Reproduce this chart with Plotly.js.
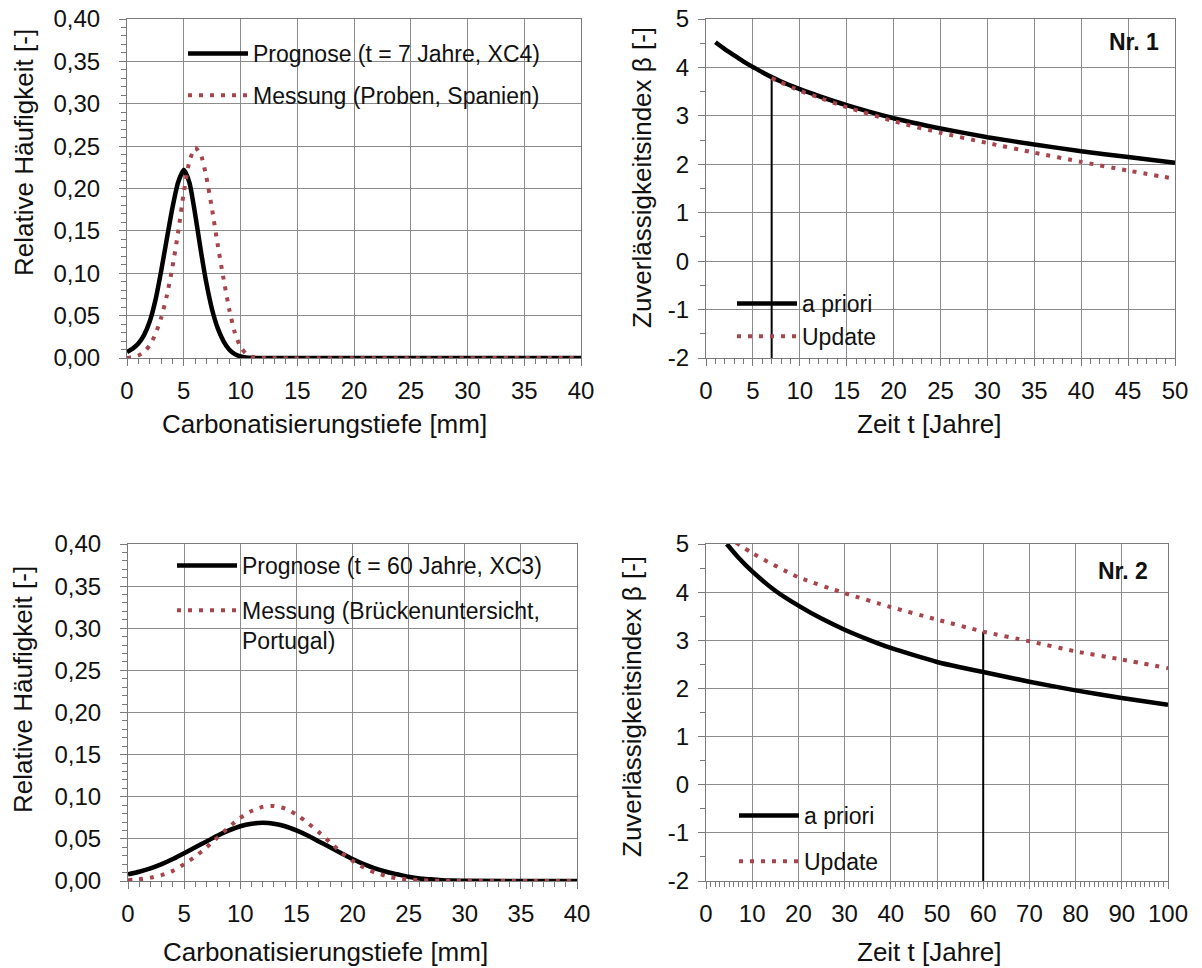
<!DOCTYPE html>
<html>
<head>
<meta charset="utf-8">
<script src="https://cdn.plot.ly/plotly-3.0.1.min.js"></script>
<style>
  html, body { margin: 0; padding: 0; background: #ffffff; }
  #chart { width: 1202px; height: 968px; }
</style>
</head>
<body>
<div id="chart"></div>
<script>
// ---------- Nr. 1: carbonation depth distribution (t = 7 years, XC4) ----------
const depthPrognose1 = [0, 0.5, 1, 1.5, 2, 2.5, 3, 3.5, 4, 4.5, 5, 5.5, 6, 6.5, 7, 7.5, 8, 8.5, 9, 9.5, 10, 10.5, 11, 12, 40];
const freqPrognose1  = [0.007, 0.011, 0.017, 0.027, 0.043, 0.068, 0.102, 0.140, 0.177, 0.207, 0.222, 0.207, 0.170, 0.127, 0.088, 0.057, 0.035, 0.020, 0.010, 0.0045, 0.0018, 0.0006, 0.0002, 0, 0];
const depthMessung1  = [0, 0.5, 1, 1.5, 2, 2.5, 3, 3.5, 4, 4.5, 5, 5.5, 6, 6.5, 7, 7.5, 8, 8.5, 9, 9.5, 10, 10.5, 11, 11.5, 12, 40];
const freqMessung1   = [0, 0.001, 0.003, 0.007, 0.015, 0.028, 0.047, 0.073, 0.107, 0.148, 0.195, 0.232, 0.248, 0.240, 0.213, 0.175, 0.133, 0.094, 0.058, 0.030, 0.013, 0.005, 0.0015, 0.0004, 0, 0];

// ---------- Nr. 1: reliability index over time ----------
const timeApriori1 = [1, 2, 3, 4, 5, 6, 7, 8, 10, 12, 15, 20, 25, 30, 35, 40, 45, 50];
const betaApriori1 = [4.52, 4.38, 4.25, 4.12, 4.01, 3.90, 3.80, 3.71, 3.55, 3.41, 3.22, 2.95, 2.74, 2.56, 2.41, 2.27, 2.15, 2.03];
const timeUpdate1  = [7, 8, 10, 12, 15, 20, 25, 30, 35, 40, 45, 50];
const betaUpdate1  = [3.78, 3.69, 3.52, 3.38, 3.18, 2.89, 2.65, 2.44, 2.24, 2.05, 1.87, 1.70];
const inspection1  = 7;

// ---------- Nr. 2: carbonation depth distribution (t = 60 years, XC3) ----------
const depthPrognose2 = [0, 1, 2, 3, 4, 5, 6, 7, 8, 9, 10, 11, 12, 13, 14, 15, 16, 17, 18, 19, 20, 21, 22, 23, 24, 25, 26, 27, 28, 29, 30, 40];
const freqPrognose2  = [0.008, 0.011, 0.015, 0.020, 0.026, 0.033, 0.040, 0.047, 0.054, 0.060, 0.065, 0.068, 0.069, 0.068, 0.065, 0.060, 0.054, 0.047, 0.040, 0.033, 0.026, 0.020, 0.015, 0.011, 0.008, 0.005, 0.003, 0.002, 0.001, 0.0005, 0.0002, 0];
const depthMessung2  = [0, 1, 2, 3, 4, 5, 6, 7, 8, 9, 10, 11, 12, 13, 14, 15, 16, 17, 18, 19, 20, 21, 22, 23, 24, 25, 26, 27, 28, 29, 40];
const freqMessung2   = [0.001, 0.002, 0.004, 0.007, 0.012, 0.020, 0.029, 0.040, 0.052, 0.064, 0.075, 0.083, 0.088, 0.089, 0.086, 0.079, 0.069, 0.058, 0.046, 0.034, 0.024, 0.016, 0.010, 0.006, 0.003, 0.002, 0.001, 0.0005, 0.0002, 0, 0];

// ---------- Nr. 2: reliability index over time ----------
const timeApriori2 = [4.5, 7, 10, 15, 20, 25, 30, 35, 40, 45, 50, 55, 60, 70, 80, 90, 100];
const betaApriori2 = [5.00, 4.72, 4.43, 4.03, 3.72, 3.45, 3.22, 3.02, 2.84, 2.69, 2.55, 2.44, 2.34, 2.14, 1.96, 1.80, 1.66];
const timeUpdate2  = [6.5, 10, 20, 30, 40, 50, 60, 70, 80, 90, 100];
const betaUpdate2  = [5.03, 4.81, 4.31, 3.98, 3.69, 3.43, 3.18, 2.98, 2.77, 2.60, 2.42];
const inspection2  = 60;

// ---------- tick labels ----------
const betaTickVals = [-2, -1, 0, 1, 2, 3, 4, 5];
const betaTickText = ['-2', '-1', '0', '1', '2', '3', '4', '5'];

// ---------- texts ----------
const depthTitle = 'Carbonatisierungstiefe [mm]';
const freqTitle  = 'Relative Häufigkeit [-]';
const timeTitle  = 'Zeit t [Jahre]';
const betaTitle  = 'Zuverlässigkeitsindex β [-]';

const FONT = 'Liberation Sans, Arial, Helvetica, sans-serif';
const BLACK = '#000000';
const RED = '#a8444c';
const W = 1202, H = 968;

const solid  = { color: BLACK, width: 4.5, shape: 'spline', smoothing: 0.6 };
const dotted = { color: RED, width: 4, dash: '4px,7px', shape: 'spline', smoothing: 0.6 };
const marker = { color: BLACK, width: 2 };

function betaAt(times, betas, t) { return betas[times.indexOf(t)]; }

const traces = [
  // panel 1
  { x: depthPrognose1, y: freqPrognose1, xaxis: 'x', yaxis: 'y', mode: 'lines', line: solid,
    name: 'Prognose (t = 7 Jahre, XC4)', legend: 'legend', legendgroup: 'a1' },
  { x: depthMessung1, y: freqMessung1, xaxis: 'x', yaxis: 'y', mode: 'lines', line: dotted,
    name: 'Messung (Proben, Spanien)', legend: 'legend', legendgroup: 'b1' },
  // panel 2
  { x: [inspection1, inspection1], y: [-2, betaAt(timeUpdate1, betaUpdate1, inspection1)], xaxis: 'x2', yaxis: 'y2',
    mode: 'lines', line: marker, showlegend: false, hoverinfo: 'skip' },
  { x: timeApriori1, y: betaApriori1, xaxis: 'x2', yaxis: 'y2', mode: 'lines', line: solid,
    name: 'a priori', legend: 'legend2', legendgroup: 'a2' },
  { x: timeUpdate1, y: betaUpdate1, xaxis: 'x2', yaxis: 'y2', mode: 'lines', line: dotted,
    name: 'Update', legend: 'legend2', legendgroup: 'b2' },
  // panel 3
  { x: depthPrognose2, y: freqPrognose2, xaxis: 'x3', yaxis: 'y3', mode: 'lines', line: solid,
    name: 'Prognose (t = 60 Jahre, XC3)', legend: 'legend3', legendgroup: 'a3' },
  { x: depthMessung2, y: freqMessung2, xaxis: 'x3', yaxis: 'y3', mode: 'lines', line: dotted,
    name: 'Messung (Brückenuntersicht,<br>Portugal)', legend: 'legend3', legendgroup: 'b3' },
  // panel 4
  { x: [inspection2, inspection2], y: [-2, betaAt(timeUpdate2, betaUpdate2, inspection2)], xaxis: 'x4', yaxis: 'y4',
    mode: 'lines', line: marker, showlegend: false, hoverinfo: 'skip' },
  { x: timeApriori2, y: betaApriori2, xaxis: 'x4', yaxis: 'y4', mode: 'lines', line: solid,
    name: 'a priori', legend: 'legend4', legendgroup: 'a4' },
  { x: timeUpdate2, y: betaUpdate2, xaxis: 'x4', yaxis: 'y4', mode: 'lines', line: dotted,
    name: 'Update', legend: 'legend4', legendgroup: 'b4' }
];

const GRID = '#8c8c8c';
const AXIS = '#7a7a7a';

function axis(extra) {
  return Object.assign({
    showline: true, mirror: true, linecolor: AXIS, linewidth: 1,
    showgrid: true, gridcolor: GRID, gridwidth: 1, zeroline: false,
    ticks: 'outside', ticklen: 7, tickcolor: AXIS, tickwidth: 1,
    tickfont: { family: FONT, size: 24, color: '#111111' },
    fixedrange: true
  }, extra);
}
function minor(step) {
  return { ticks: 'outside', ticklen: 5, tickcolor: AXIS, tickwidth: 1, tickmode: 'linear', tick0: 0, dtick: step, showgrid: false };
}

// plot-area rectangles in pixels: [left, right, top, bottom]
const boxes = {
  p1: [127, 581, 19, 358],
  p2: [706, 1175, 19, 358],
  p3: [128, 577, 544, 881],
  p4: [706, 1168, 544, 881]
};
const dx = b => [b[0] / W, b[1] / W];
const dy = b => [1 - b[3] / H, 1 - b[2] / H];

const legendBase = {
  xanchor: 'left', yanchor: 'top', bgcolor: 'rgba(0,0,0,0)', borderwidth: 0,
  font: { family: FONT, size: 23, color: '#111111' }, traceorder: 'grouped', valign: 'top',
  itemwidth: 60
};

function label(text, px, py, extra) {
  return Object.assign({
    text: text, xref: 'paper', yref: 'paper', x: px / W, y: 1 - py / H,
    xanchor: 'center', yanchor: 'middle', showarrow: false,
    font: { family: FONT, size: 26, color: '#111111' }
  }, extra || {});
}

const layout = {
  width: W, height: H,
  margin: { l: 0, r: 0, t: 0, b: 0 },
  paper_bgcolor: '#ffffff', plot_bgcolor: '#ffffff',
  separators: ',.',
  showlegend: true,
  font: { family: FONT, color: '#111111' },

  xaxis:  axis({ domain: dx(boxes.p1), anchor: 'y',  range: [0, 40], tickmode: 'linear', tick0: 0, dtick: 5, minor: minor(1), ticklabelstandoff: 4 }),
  yaxis:  axis({ domain: dy(boxes.p1), anchor: 'x',  range: [0, 0.4], tickmode: 'linear', tick0: 0, dtick: 0.05, tickformat: '.2f', minor: minor(0.01), ticklabelstandoff: 14 }),
  xaxis2: axis({ domain: dx(boxes.p2), anchor: 'y2', range: [0, 50], tickmode: 'linear', tick0: 0, dtick: 5, minor: minor(1), ticklabelstandoff: 4 }),
  yaxis2: axis({ domain: dy(boxes.p2), anchor: 'x2', range: [-2, 5], tickmode: 'array', tickvals: betaTickVals, ticktext: betaTickText, minor: minor(0.5), ticklabelstandoff: 4 }),
  xaxis3: axis({ domain: dx(boxes.p3), anchor: 'y3', range: [0, 40], tickmode: 'linear', tick0: 0, dtick: 5, minor: minor(1), ticklabelstandoff: 4 }),
  yaxis3: axis({ domain: dy(boxes.p3), anchor: 'x3', range: [0, 0.4], tickmode: 'linear', tick0: 0, dtick: 0.05, tickformat: '.2f', minor: minor(0.01), ticklabelstandoff: 14 }),
  xaxis4: axis({ domain: dx(boxes.p4), anchor: 'y4', range: [0, 100], tickmode: 'linear', tick0: 0, dtick: 10, minor: minor(1), ticklabelstandoff: 4 }),
  yaxis4: axis({ domain: dy(boxes.p4), anchor: 'x4', range: [-2, 5], tickmode: 'array', tickvals: betaTickVals, ticktext: betaTickText, minor: minor(0.5), ticklabelstandoff: 4 }),

  legend:  Object.assign({}, legendBase, { x: 183 / W, y: 1 - 32 / H,  tracegroupgap: 9 }),
  legend2: Object.assign({}, legendBase, { x: 732 / W, y: 1 - 282 / H, tracegroupgap: 0 }),
  legend3: Object.assign({}, legendBase, { x: 172 / W, y: 1 - 544 / H, tracegroupgap: 12 }),
  legend4: Object.assign({}, legendBase, { x: 734 / W, y: 1 - 794 / H, tracegroupgap: 13 }),

  annotations: [
    label(depthTitle, 324, 424),
    label(depthTitle, 325, 952),
    label(timeTitle, 929, 424),
    label(timeTitle, 929, 952),
    label(freqTitle, 24, 153, { textangle: -90 }),
    label(freqTitle, 23, 690, { textangle: -90 }),
    label(betaTitle, 642, 178, { textangle: -90 }),
    label(betaTitle, 632, 707, { textangle: -90 }),
    label('<b>Nr. 1</b>', 1134, 42, { font: { family: FONT, size: 23, color: '#111111' } }),
    label('<b>Nr. 2</b>', 1123, 571, { font: { family: FONT, size: 23, color: '#111111' } })
  ]
};

Plotly.newPlot('chart', traces, layout, { displayModeBar: false, staticPlot: true });
</script>
</body>
</html>
